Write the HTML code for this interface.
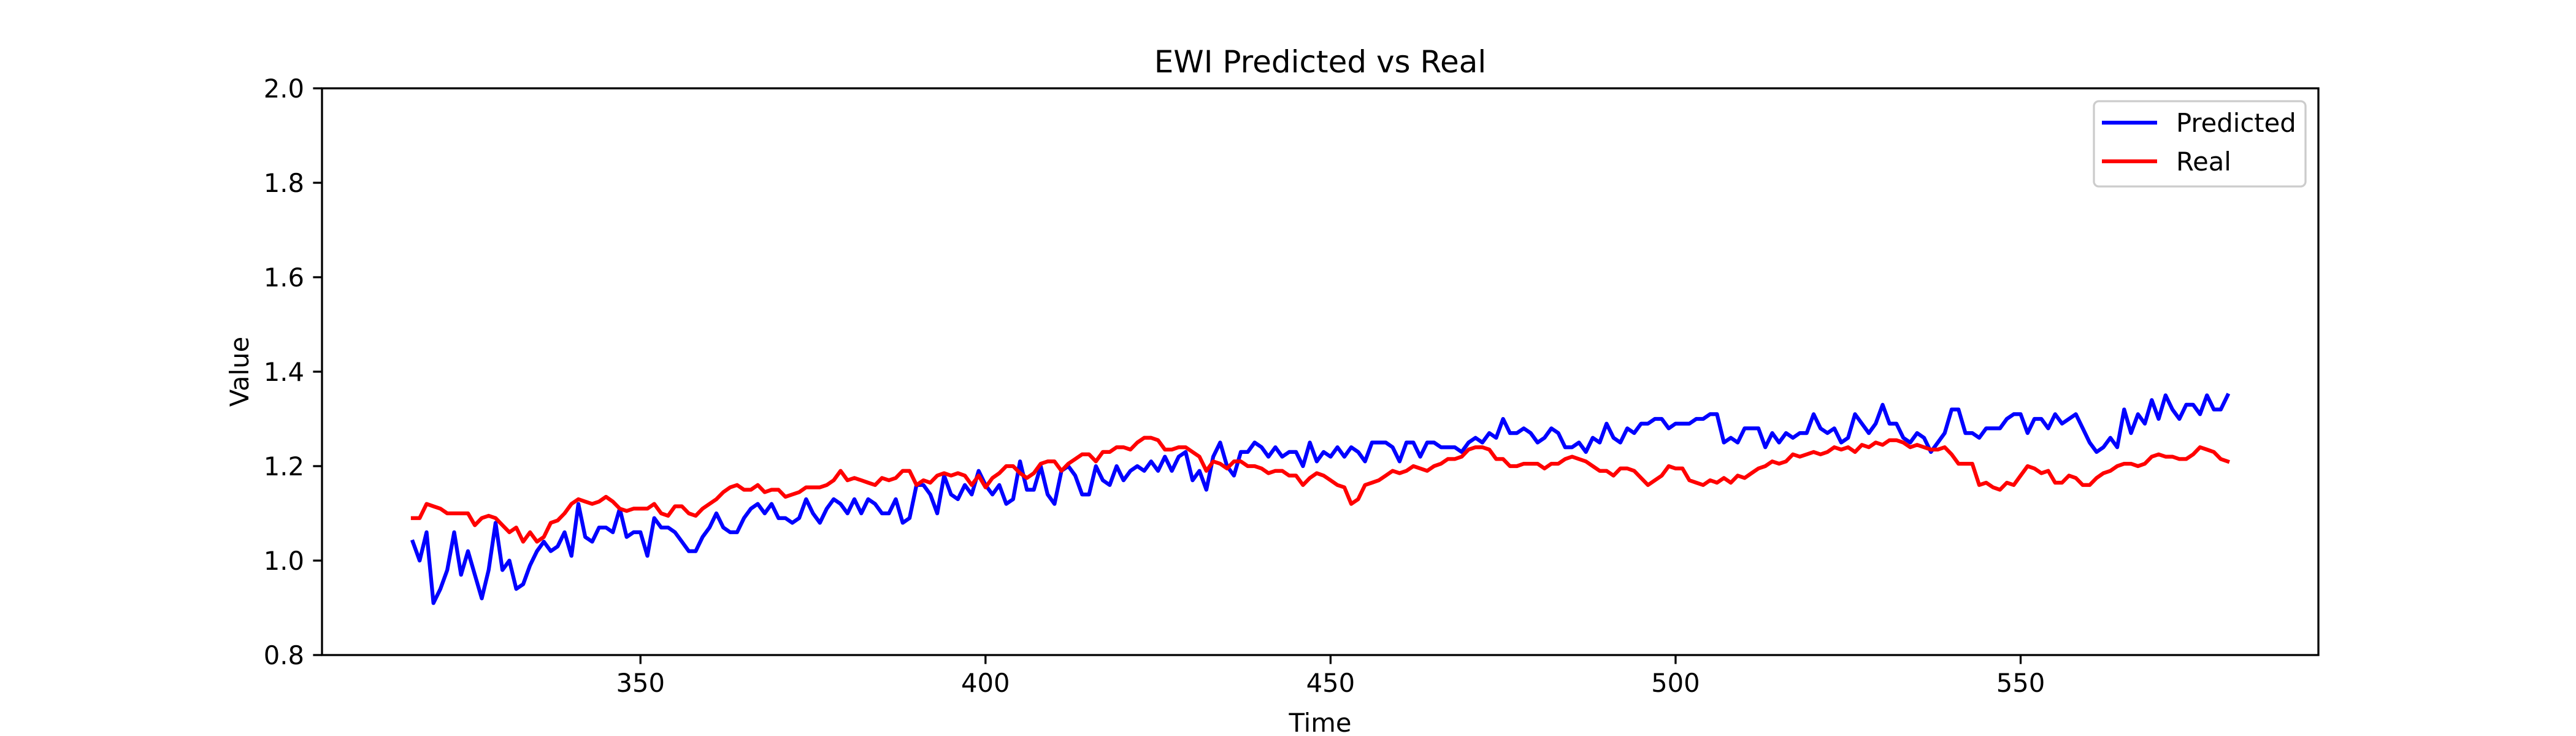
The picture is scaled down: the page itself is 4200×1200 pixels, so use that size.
<!DOCTYPE html>
<html><head><meta charset="utf-8"><style>
html,body{margin:0;padding:0;background:#fff;}
svg{display:block;font-family:"DejaVu Sans","Liberation Sans",sans-serif;}
</style></head><body>
<svg id="chart" width="4200" height="1200" viewBox="0 0 4200 1200">
<rect width="4200" height="1200" fill="#fff"/>
<g id="plot"></g>
</svg>
<script>
const startTime = 317;
const predicted = [1.04,1.00,1.06,0.91,0.94,0.98,1.06,0.97,1.02,0.97,0.92,0.98,1.08,0.98,1.00,0.94,0.95,0.99,1.02,1.04,1.02,1.03,1.06,1.01,1.12,1.05,1.04,1.07,1.07,1.06,1.11,1.05,1.06,1.06,1.01,1.09,1.07,1.07,1.06,1.04,1.02,1.02,1.05,1.07,1.10,1.07,1.06,1.06,1.09,1.11,1.12,1.10,1.12,1.09,1.09,1.08,1.09,1.13,1.10,1.08,1.11,1.13,1.12,1.10,1.13,1.10,1.13,1.12,1.10,1.10,1.13,1.08,1.09,1.16,1.16,1.14,1.10,1.18,1.14,1.13,1.16,1.14,1.19,1.16,1.14,1.16,1.12,1.13,1.21,1.15,1.15,1.20,1.14,1.12,1.19,1.20,1.18,1.14,1.14,1.20,1.17,1.16,1.20,1.17,1.19,1.20,1.19,1.21,1.19,1.22,1.19,1.22,1.23,1.17,1.19,1.15,1.22,1.25,1.20,1.18,1.23,1.23,1.25,1.24,1.22,1.24,1.22,1.23,1.23,1.20,1.25,1.21,1.23,1.22,1.24,1.22,1.24,1.23,1.21,1.25,1.25,1.25,1.24,1.21,1.25,1.25,1.22,1.25,1.25,1.24,1.24,1.24,1.23,1.25,1.26,1.25,1.27,1.26,1.30,1.27,1.27,1.28,1.27,1.25,1.26,1.28,1.27,1.24,1.24,1.25,1.23,1.26,1.25,1.29,1.26,1.25,1.28,1.27,1.29,1.29,1.30,1.30,1.28,1.29,1.29,1.29,1.30,1.30,1.31,1.31,1.25,1.26,1.25,1.28,1.28,1.28,1.24,1.27,1.25,1.27,1.26,1.27,1.27,1.31,1.28,1.27,1.28,1.25,1.26,1.31,1.29,1.27,1.29,1.33,1.29,1.29,1.26,1.25,1.27,1.26,1.23,1.25,1.27,1.32,1.32,1.27,1.27,1.26,1.28,1.28,1.28,1.30,1.31,1.31,1.27,1.30,1.30,1.28,1.31,1.29,1.30,1.31,1.28,1.25,1.23,1.24,1.26,1.24,1.32,1.27,1.31,1.29,1.34,1.30,1.35,1.32,1.30,1.33,1.33,1.31,1.35,1.32,1.32,1.35];
const real = [1.09,1.09,1.12,1.115,1.11,1.10,1.10,1.10,1.10,1.075,1.09,1.095,1.09,1.075,1.06,1.07,1.04,1.06,1.04,1.05,1.08,1.085,1.10,1.12,1.13,1.125,1.12,1.125,1.135,1.125,1.11,1.105,1.11,1.11,1.11,1.12,1.10,1.095,1.115,1.115,1.10,1.095,1.11,1.12,1.13,1.145,1.155,1.16,1.15,1.15,1.16,1.145,1.15,1.15,1.135,1.14,1.145,1.155,1.155,1.155,1.16,1.17,1.19,1.17,1.175,1.17,1.165,1.16,1.175,1.17,1.175,1.19,1.19,1.16,1.17,1.165,1.18,1.185,1.18,1.185,1.18,1.16,1.18,1.155,1.175,1.185,1.20,1.20,1.185,1.175,1.185,1.205,1.21,1.21,1.19,1.205,1.215,1.225,1.225,1.21,1.23,1.23,1.24,1.24,1.235,1.25,1.26,1.26,1.255,1.235,1.235,1.24,1.24,1.23,1.22,1.19,1.21,1.205,1.195,1.21,1.21,1.20,1.20,1.195,1.185,1.19,1.19,1.18,1.18,1.16,1.175,1.185,1.18,1.17,1.16,1.155,1.12,1.13,1.16,1.165,1.17,1.18,1.19,1.185,1.19,1.20,1.195,1.19,1.20,1.205,1.215,1.215,1.22,1.235,1.24,1.24,1.235,1.215,1.215,1.20,1.20,1.205,1.205,1.205,1.195,1.205,1.205,1.215,1.22,1.215,1.21,1.20,1.19,1.19,1.18,1.195,1.195,1.19,1.175,1.16,1.17,1.18,1.20,1.195,1.195,1.17,1.165,1.16,1.17,1.165,1.175,1.165,1.18,1.175,1.185,1.195,1.20,1.21,1.205,1.21,1.225,1.22,1.225,1.23,1.225,1.23,1.24,1.235,1.24,1.23,1.245,1.24,1.25,1.245,1.255,1.255,1.25,1.24,1.245,1.24,1.235,1.235,1.24,1.225,1.205,1.205,1.205,1.16,1.165,1.155,1.15,1.165,1.16,1.18,1.20,1.195,1.185,1.19,1.165,1.165,1.18,1.175,1.16,1.16,1.175,1.185,1.19,1.20,1.205,1.205,1.20,1.205,1.22,1.225,1.22,1.22,1.215,1.215,1.225,1.24,1.235,1.23,1.215,1.21];
const xTicks = [350,400,450,500,550];
const yTicks = [0.8,1.0,1.2,1.4,1.6,1.8,2.0];
const yTickLabels = ["0.8","1.0","1.2","1.4","1.6","1.8","2.0"];

const NS = "http://www.w3.org/2000/svg";
const L = 525, R = 3780, T = 144, B = 1068;
const n = Math.max(predicted.length, real.length);
const tMin = startTime, tMax = startTime + n - 1;
const pad = (tMax - tMin) * 0.05;
const xMin = tMin - pad, xMax = tMax + pad;
const yMin = 0.8, yMax = 2.0;
const sx = v => L + (v - xMin) / (xMax - xMin) * (R - L);
const sy = v => B - (v - yMin) / (yMax - yMin) * (B - T);
const g = document.getElementById('plot');
function mk(tag, attrs, parent) {
  const e = document.createElementNS(NS, tag);
  for (const k in attrs) e.setAttribute(k, attrs[k]);
  (parent || g).appendChild(e);
  return e;
}
function series(arr, color, name) {
  const pts = arr.map((v, i) => sx(startTime + i).toFixed(1) + ',' + sy(v).toFixed(1)).join(' ');
  const p = mk('polyline', {points: pts, fill: 'none', stroke: color, 'stroke-width': 6.25, 'stroke-linejoin': 'round', 'stroke-linecap': 'square'});
  
  
}
series(predicted, '#0000ff', 'predicted-line');
series(real, '#ff0000', 'real-line');

const frame = mk('rect', {x: L, y: T, width: R - L, height: B - T, fill: 'none', stroke: '#000', 'stroke-width': 3.3});



xTicks.forEach(v => {
  const x = sx(v);
  const tk = mk('line', {x1: x, x2: x, y1: B, y2: B + 14.6, stroke: '#000', 'stroke-width': 3.3});
  
  
  const t = mk('text', {x: x, y: B + 60, 'font-size': 41.7, 'text-anchor': 'middle', fill: '#000'});
  t.textContent = String(v);
  
  
});
yTicks.forEach((v, i) => {
  const y = sy(v);
  const tk = mk('line', {x1: L - 14.6, x2: L, y1: y, y2: y, stroke: '#000', 'stroke-width': 3.3});
  
  
  const t = mk('text', {x: L - 29, y: y + 15, 'font-size': 41.7, 'text-anchor': 'end', fill: '#000'});
  t.textContent = yTickLabels[i];
  
  
});

const title = mk('text', {x: (L + R) / 2, y: 118, 'font-size': 50, 'text-anchor': 'middle', fill: '#000'});
title.textContent = 'EWI Predicted vs Real';


const xl = mk('text', {x: (L + R) / 2, y: 1193, 'font-size': 41.7, 'text-anchor': 'middle', fill: '#000'});
xl.textContent = 'Time';


const yl = mk('text', {x: 0, y: 0, 'font-size': 41.7, 'text-anchor': 'middle', fill: '#000', transform: 'translate(405,606) rotate(-90)'});
yl.textContent = 'Value';



const lg = mk('g', {});


const box = mk('rect', {x: 3414, y: 165, width: 345, height: 139, rx: 8, fill: '#fff', 'fill-opacity': 0.8, stroke: '#cccccc', 'stroke-width': 3.3}, lg);


[['Predicted', '#0000ff', 200], ['Real', '#ff0000', 263]].forEach(([lab, c, y]) => {
  const ln = mk('line', {x1: 3427, x2: 3517, y1: y, y2: y, stroke: c, 'stroke-width': 6.25}, lg);
  
  
  const t = mk('text', {x: 3548, y: y + 15, 'font-size': 41.7, fill: '#000'}, lg);
  t.textContent = lab;
  
  
});
</script>
</body></html>
